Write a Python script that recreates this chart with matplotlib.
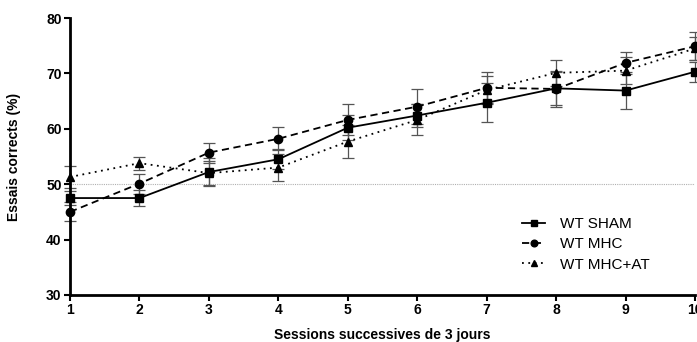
import matplotlib
matplotlib.use('Agg')
import matplotlib.pyplot as plt
import numpy as np

plt.rcParams['font.family'] = ['Liberation Sans', 'DejaVu Sans']

sessions = np.arange(1, 11)
sham = [47.5, 47.5, 52.2, 54.5, 60.2, 62.4, 64.7, 67.3, 66.9, 70.3]
sham_err = [1.3, 1.5, 2.5, 1.8, 2.3, 2.0, 3.5, 3.0, 3.4, 1.8]
mhc = [45.0, 50.1, 55.7, 58.2, 61.6, 64.0, 67.4, 67.2, 71.9, 74.9]
mhc_err = [1.7, 1.8, 1.8, 2.1, 2.8, 3.2, 2.8, 3.3, 2.0, 2.5]
at = [51.3, 53.8, 52.0, 53.0, 57.7, 61.6, 67.0, 70.1, 70.5, 74.5]
at_err = [1.9, 1.2, 2.2, 2.4, 3.0, 2.8, 2.5, 2.3, 2.5, 2.0]
labels = ['WT SHAM', 'WT MHC', 'WT MHC+AT']

fig = plt.figure(figsize=(6.97, 3.42), dpi=100)
ax = fig.add_axes([70/697, 47/342, 625/697, 277/342])

ax.axhline(50, color='#b0b0b0', lw=0.8, ls=(0, (1, 1)), zorder=0)

series = [
    (sham, sham_err, 's', '-'),
    (mhc, mhc_err, 'o', (0, (4, 2.5))),
    (at, at_err, '^', (0, (1, 2.5))),
]
for (vals, errs, mk, ls), lab in zip(series, labels):
    ax.errorbar(sessions, vals, yerr=errs, fmt='none', ecolor='#555555',
                elinewidth=0.9, capsize=4, capthick=0.9, clip_on=False, zorder=2)
    ax.plot(sessions, vals, color='black', marker=mk, ls=ls, lw=1.3,
            markersize=6, label=lab, clip_on=False, zorder=3)

ax.set_xlim(1, 10)
ax.set_ylim(30, 80)
ax.set_xticks(sessions)
ax.set_yticks([30, 40, 50, 60, 70, 80])
for s in ['top', 'right']:
    ax.spines[s].set_visible(False)
for s in ['left', 'bottom']:
    ax.spines[s].set_linewidth(2)
ax.tick_params(direction='out', length=4, width=1.5, labelsize=10, pad=2)
for t in ax.get_xticklabels() + ax.get_yticklabels():
    t.set_fontweight('bold')

ax.set_xlabel('Sessions successives de 3 jours', fontsize=10, fontweight='bold')
ax.xaxis.set_label_coords(0.5, -0.118)
ax.set_ylabel('Essais corrects (%)', fontsize=10, fontweight='bold', labelpad=18)

leg = ax.legend(loc='lower right', bbox_to_anchor=(0.95, 0.035), frameon=False,
                fontsize=11, handlelength=1.5, handletextpad=1.0, labelspacing=0.4,
                markerscale=0.8)

fig.savefig('out.png', dpi=100)
